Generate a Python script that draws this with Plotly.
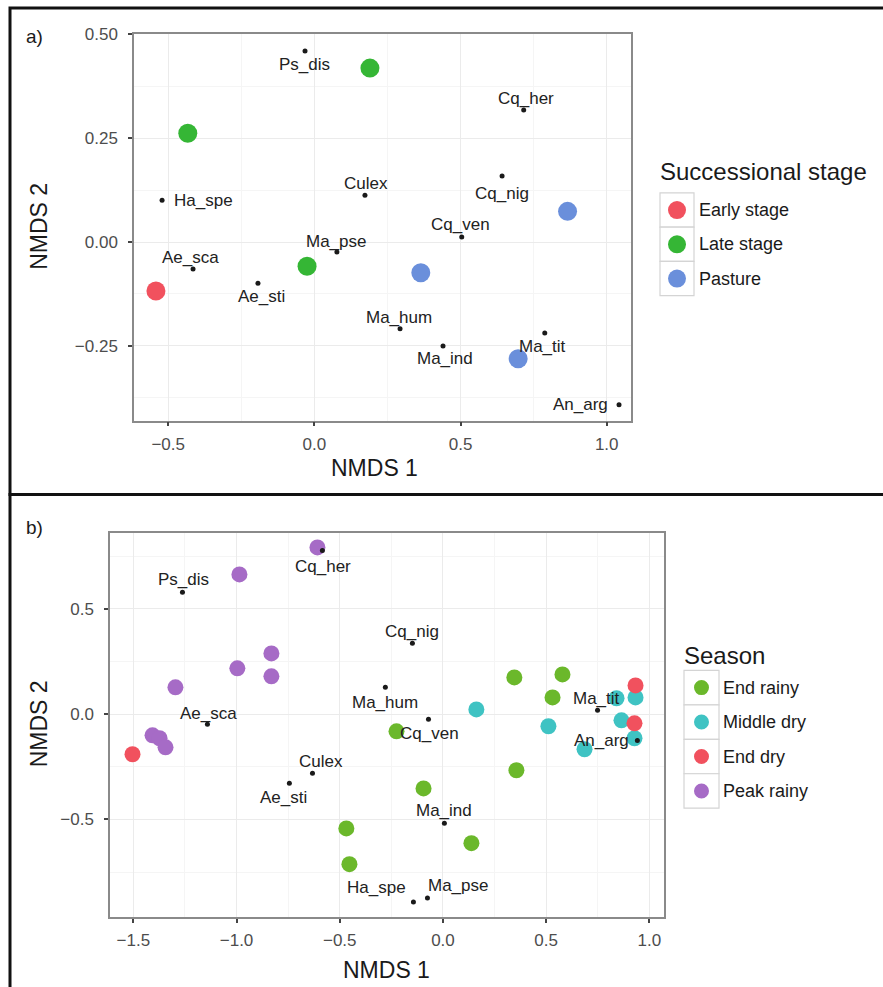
import plotly.graph_objects as go

W, H = 883, 987

# ---------------- Panel a data ----------------
a_early_x = [-0.542]
a_early_y = [-0.118]
a_late_x = [0.190, -0.433, -0.025]
a_late_y = [0.419, 0.262, -0.058]
a_past_x = [0.364, 0.866, 0.697]
a_past_y = [-0.074, 0.074, -0.281]

a_species = ["Ps_dis", "Cq_her", "Ha_spe", "Culex", "Cq_nig", "Cq_ven", "Ma_pse",
             "Ae_sca", "Ae_sti", "Ma_hum", "Ma_ind", "Ma_tit", "An_arg"]
a_sp_x = [-0.032, 0.716, -0.521, 0.173, 0.642, 0.504, 0.077,
          -0.415, -0.193, 0.293, 0.440, 0.788, 1.042]
a_sp_y = [0.460, 0.318, 0.101, 0.113, 0.159, 0.012, -0.024,
          -0.065, -0.099, -0.209, -0.250, -0.219, -0.392]

# ---------------- Panel b data ----------------
b_endrainy_x = [0.346, 0.579, 0.531, -0.225, 0.356, -0.094, 0.138, -0.468, -0.453]
b_endrainy_y = [0.174, 0.188, 0.079, -0.082, -0.267, -0.353, -0.613, -0.543, -0.713]
b_middry_x = [0.162, 0.511, 0.686, 0.865, 0.933, 0.928, 0.841]
b_middry_y = [0.022, -0.058, -0.167, -0.030, 0.079, -0.115, 0.075]
b_enddry_x = [-1.504, 0.933, 0.928]
b_enddry_y = [-0.191, 0.136, -0.044]
b_peak_x = [-0.608, -0.986, -0.996, -0.831, -0.831, -1.296, -1.407, -1.373, -1.344]
b_peak_y = [0.791, 0.663, 0.217, 0.288, 0.179, 0.127, -0.101, -0.115, -0.158]

b_species = ["Cq_her", "Ps_dis", "Cq_nig", "Ma_hum", "Cq_ven", "Ae_sca", "Culex",
             "Ae_sti", "Ma_ind", "Ha_spe", "Ma_pse", "Ma_tit", "An_arg"]
b_sp_x = [-0.584, -1.262, -0.148, -0.279, -0.070, -1.141, -0.632,
          -0.744, 0.007, -0.143, -0.075, 0.749, 0.942]
b_sp_y = [0.776, 0.578, 0.336, 0.127, -0.025, -0.049, -0.281,
          -0.329, -0.518, -0.893, -0.874, 0.018, -0.125]

a_stage_names = ["Early stage", "Late stage", "Pasture"]
b_season_names = ["End rainy", "Middle dry", "End dry", "Peak rainy"]

# ---------------- styles / label offsets (pixels: dx right, dy down) ----------------
a_lab_off = [(-1, 13), (2, -12), (41, 0), (1, -12), (0, 17), (-1, -13), (-1, -11),
             (-3, -12), (4, 13), (-1, -11), (2, 13), (-2, 13), (-39, 0)]
b_lab_off = [(1, 16), (1, -13), (0, -12), (0, 15), (1, 14), (1, -11), (9, -12),
             (-6, 14), (0, -13), (-37, -15), (31, -13), (-1, -12), (-36, 0)]

col_a = ["#F1515E", "#35B635", "#6A8FDB"]
col_b = ["#6BB82B", "#3FC3C3", "#F1515E", "#A66BC6"]
FONT = "Liberation Sans, Arial, Helvetica, sans-serif"
LAB_SIZE = 17
TICK_SIZE = 17
TITLE_SIZE = 23

# the page is shown with a small top offset; compensate vertical placement
Y_OFF, Y_SCALE = 7.9, 0.992


def fx(p):
    return p / W


def fy(p):
    return 1 - ((p - Y_OFF) / Y_SCALE) / H


fig = go.Figure()

# panel a sites
for xs, ys, c, n in zip([a_early_x, a_late_x, a_past_x], [a_early_y, a_late_y, a_past_y], col_a, a_stage_names):
    fig.add_trace(go.Scatter(x=xs, y=ys, mode="markers", name=n, xaxis="x", yaxis="y",
                             marker=dict(size=19, color=c, line=dict(width=0)), showlegend=False))
fig.add_trace(go.Scatter(x=a_sp_x, y=a_sp_y, mode="markers", xaxis="x", yaxis="y",
                         marker=dict(size=5, color="#1a1a1a"), showlegend=False))

# panel b sites
for xs, ys, c, n in zip([b_endrainy_x, b_middry_x, b_enddry_x, b_peak_x],
                        [b_endrainy_y, b_middry_y, b_enddry_y, b_peak_y], col_b, b_season_names):
    fig.add_trace(go.Scatter(x=xs, y=ys, mode="markers", name=n, xaxis="x2", yaxis="y2",
                             marker=dict(size=16, color=c, line=dict(width=0)), showlegend=False))
fig.add_trace(go.Scatter(x=b_sp_x, y=b_sp_y, mode="markers", xaxis="x2", yaxis="y2",
                         marker=dict(size=5, color="#1a1a1a"), showlegend=False))

annotations = []
for name, x, y, (dx, dy) in zip(a_species, a_sp_x, a_sp_y, a_lab_off):
    annotations.append(dict(x=x, y=y, xref="x", yref="y", text=name, showarrow=False,
                            xshift=dx, yshift=-dy, font=dict(family=FONT, size=LAB_SIZE, color="#222")))
for name, x, y, (dx, dy) in zip(b_species, b_sp_x, b_sp_y, b_lab_off):
    annotations.append(dict(x=x, y=y, xref="x2", yref="y2", text=name, showarrow=False,
                            xshift=dx, yshift=-dy, font=dict(family=FONT, size=LAB_SIZE, color="#222")))

# axis titles and panel tags
def txt(x, y, s, size, angle=0, xanchor="center", color="#1a1a1a"):
    annotations.append(dict(x=fx(x), y=fy(y), xref="paper", yref="paper", text=s, showarrow=False,
                            textangle=angle, xanchor=xanchor, yanchor="middle",
                            font=dict(family=FONT, size=size, color=color)))

txt(374, 467, "NMDS 1", TITLE_SIZE)
txt(39, 226, "NMDS 2", TITLE_SIZE, angle=-90)
txt(386, 970, "NMDS 1", TITLE_SIZE)
txt(39, 724, "NMDS 2", TITLE_SIZE, angle=-90)
txt(24, 35, "a)", 19, xanchor="left")
txt(24, 527, "b)", 19, xanchor="left")

shapes = []
# outer frames
shapes.append(dict(type="rect", xref="paper", yref="paper", x0=fx(10), x1=fx(900), y0=fy(7), y1=fy(494),
                   line=dict(color="#111", width=3), layer="above"))
shapes.append(dict(type="rect", xref="paper", yref="paper", x0=fx(10), x1=fx(900), y0=fy(494), y1=fy(1010),
                   line=dict(color="#111", width=3), layer="above"))

# legends (manual, ggplot style)
def legend(title, tx, ty, names, cols, box_x0, box_x1, row0, rowh, circ_d, text_x):
    txt(tx, ty, title, 24, xanchor="left")
    for i, (n, c) in enumerate(zip(names, cols)):
        y0 = row0 + i * rowh
        shapes.append(dict(type="rect", xref="paper", yref="paper", x0=fx(box_x0), x1=fx(box_x1),
                           y0=fy(y0), y1=fy(y0 + rowh), line=dict(color="#D4D4D4", width=1.2),
                           fillcolor="white"))
        cx, cy = (box_x0 + box_x1) / 2, y0 + rowh / 2
        shapes.append(dict(type="circle", xref="paper", yref="paper", xsizemode="pixel", ysizemode="pixel",
                           xanchor=fx(cx), yanchor=fy(cy), x0=-circ_d / 2, x1=circ_d / 2,
                           y0=-circ_d / 2, y1=circ_d / 2, fillcolor=c, line=dict(width=0)))
        txt(text_x, cy, n, 18, xanchor="left")

legend("Successional stage", 658, 171, a_stage_names, col_a, 660, 694, 192, 34.3, 18, 697)
legend("Season", 682, 655, b_season_names, col_b, 684, 719, 670, 34.5, 15, 721)

axis_common = dict(showline=True, mirror=True, linecolor="#8A8A8A", linewidth=1.5,
                   ticks="outside", ticklen=4, tickwidth=1.5, tickcolor="#444",
                   showgrid=True, gridcolor="#EBEBEB", gridwidth=1.2, zeroline=False,
                   tickfont=dict(family=FONT, size=TICK_SIZE, color="#4D4D4D"))
xcommon = dict(axis_common, ticklabelstandoff=3)
ycommon = dict(axis_common, ticklabelstandoff=7)

fig.update_layout(
    width=W, height=H, margin=dict(l=0, r=0, t=0, b=0),
    paper_bgcolor="white", plot_bgcolor="white", showlegend=False,
    xaxis=dict(xcommon, domain=[fx(134), fx(631)], range=[-0.617, 1.083], anchor="y",
               tickvals=[-0.5, 0.0, 0.5, 1.0], tickformat=".1f",
               minor=dict(tickvals=[-0.25, 0.25, 0.75], showgrid=True, gridcolor="#F5F5F5", gridwidth=0.8)),
    yaxis=dict(ycommon, domain=[fy(420), fy(33)], range=[-0.430, 0.501], anchor="x",
               tickvals=[-0.25, 0.0, 0.25, 0.5], tickformat=".2f",
               minor=dict(tickvals=[-0.375, -0.125, 0.125, 0.375], showgrid=True, gridcolor="#F5F5F5", gridwidth=0.8)),
    xaxis2=dict(xcommon, domain=[fx(110), fx(664)], range=[-1.613, 1.071], anchor="y2",
                tickvals=[-1.5, -1.0, -0.5, 0.0, 0.5, 1.0], tickformat=".1f",
                minor=dict(tickvals=[-1.25, -0.75, -0.25, 0.25, 0.75], showgrid=True, gridcolor="#F5F5F5", gridwidth=0.8)),
    yaxis2=dict(ycommon, domain=[fy(917), fy(532)], range=[-0.964, 0.862], anchor="x2",
                tickvals=[-0.5, 0.0, 0.5], tickformat=".1f",
                minor=dict(tickvals=[-0.75, -0.25, 0.25, 0.75], showgrid=True, gridcolor="#F5F5F5", gridwidth=0.8)),
    annotations=annotations, shapes=shapes,
)

fig.write_html("out.html")
